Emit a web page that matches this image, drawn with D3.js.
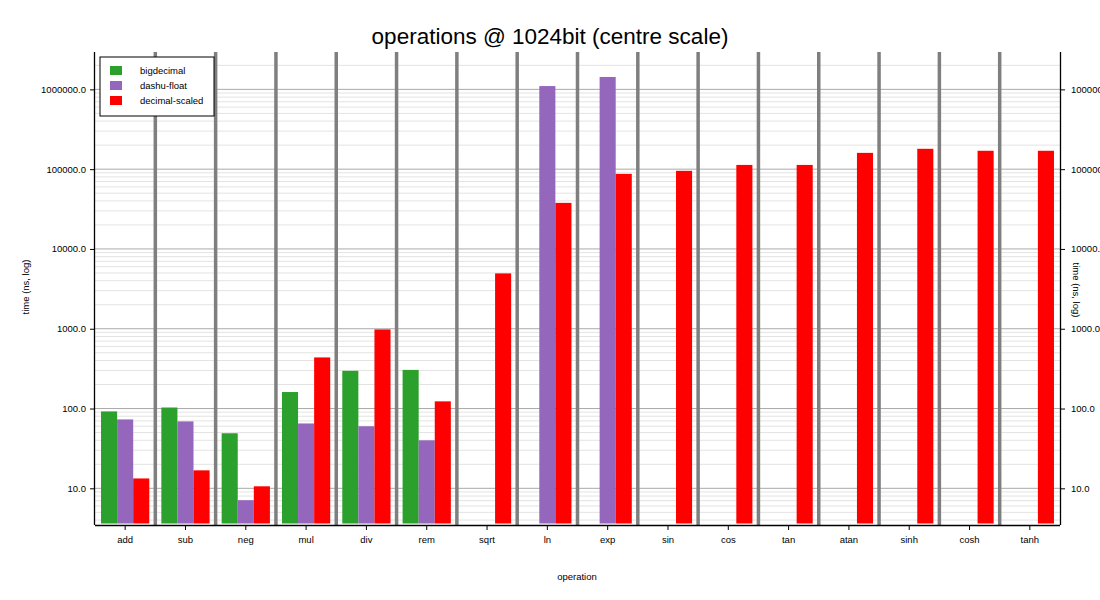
<!DOCTYPE html>
<html>
<head>
<meta charset="utf-8">
<script src="https://cdn.jsdelivr.net/npm/d3@7"></script>
<style>
  body { margin: 0; background: #fff; }
  svg text { font-family: "Liberation Sans", Arial, sans-serif; fill: #000; }
</style>
</head>
<body>
<svg id="chart" width="1100" height="600"></svg>
<script>
// operations on the x axis
var operations = ["add", "sub", "neg", "mul", "div", "rem", "sqrt", "ln", "exp",
    "sin", "cos", "tan", "atan", "sinh", "cosh", "tanh"];
var seriesNames = ["bigdecimal", "dashu-float", "decimal-scaled"];
// time in ns, null = not measured
var bigdecimal = [92, 103, 49, 161, 297, 305, null, null, null,
    null, null, null, null, null, null, null];
var dashuFloat = [73, 69, 7.1, 65, 60, 40, null, 1100000, 1430000,
    null, null, null, null, null, null, null];
var decimalScaled = [13.3, 16.8, 10.6, 437, 980, 123, 4940, 37800, 87300,
    95300, 113000, 113000, 160000, 180000, 170000, 170000];
var majorTicks = [10, 100, 1000, 10000, 100000, 1000000];

var colors = ["#2ca02c", "#9467bd", "#ff0000"];
var seriesValues = [bigdecimal, dashuFloat, decimalScaled];

var plotLeft = 95, plotRight = 1060, plotTop = 52, plotBottom = 525;
var svg = d3.select("#chart");

var x = d3.scaleBand().domain(operations).range([plotLeft, plotRight]).padding(0);
// group takes the middle 80% of each band
var inner = d3.scaleBand().domain(seriesNames)
    .range([x.bandwidth() * 0.1, x.bandwidth() * 0.9]).padding(0);

var y = d3.scaleLog().domain([3.47, 2.94e6]).range([plotBottom, plotTop]);

// grid
var grid = svg.append("g");
grid.selectAll("line.minor")
    .data(y.ticks().filter(t => majorTicks.indexOf(t) < 0))
    .enter().append("line")
    .attr("x1", plotLeft).attr("x2", plotRight)
    .attr("y1", d => y(d)).attr("y2", d => y(d))
    .attr("stroke", "#e3e3e3").attr("stroke-width", 1);
grid.selectAll("line.major")
    .data(majorTicks)
    .enter().append("line")
    .attr("x1", plotLeft).attr("x2", plotRight)
    .attr("y1", d => y(d)).attr("y2", d => y(d))
    .attr("stroke", "#aaaaaa").attr("stroke-width", 1);

// separators between operations
svg.append("g").selectAll("line")
    .data(operations.slice(1))
    .enter().append("line")
    .attr("x1", d => x(d)).attr("x2", d => x(d))
    .attr("y1", plotTop).attr("y2", plotBottom)
    .attr("stroke", "#7f7f7f").attr("stroke-width", 3.5);

// bars
seriesNames.forEach(function (name, si) {
    var vals = seriesValues[si];
    svg.append("g").selectAll("rect")
        .data(operations.map((op, i) => ({op: op, v: vals[i]})).filter(d => d.v != null))
        .enter().append("rect")
        .attr("x", d => x(d.op) + inner(name))
        .attr("width", inner.bandwidth())
        .attr("y", d => y(d.v))
        .attr("height", d => plotBottom - 1.5 - y(d.v))
        .attr("fill", colors[si]);
});

// axes
var fmt = d3.format(".1f");
var yLeft = d3.axisLeft(y).tickValues(majorTicks).tickFormat(fmt).tickSize(5).tickPadding(4);
var gl = svg.append("g").attr("transform", `translate(${plotLeft},0)`).call(yLeft);
var yRight = d3.axisRight(y).tickValues(majorTicks).tickFormat(fmt).tickSize(5).tickPadding(6);
var gr = svg.append("g").attr("transform", `translate(${plotRight},0)`).call(yRight);
var xAxis = d3.axisBottom(x).tickSize(5).tickPadding(6).tickSizeOuter(0);
var gx = svg.append("g").attr("transform", `translate(0,${plotBottom})`).call(xAxis);
[gl, gr, gx].forEach(function (g) {
    g.selectAll("text").style("font-size", "9.5px").style("font-family", "Liberation Sans, Arial, sans-serif");
    g.select(".domain").attr("stroke", "#000").attr("stroke-width", 1.3);
    g.selectAll(".tick line").attr("stroke", "#000");
});
gl.select(".domain").attr("d", `M-0.5,${plotTop}V${plotBottom}`);
gr.select(".domain").attr("d", `M0.5,${plotTop}V${plotBottom}`);
gx.select(".domain").attr("d", `M${plotLeft},0.5H${plotRight}`);

// labels
svg.append("text").attr("x", 550).attr("y", 44).attr("text-anchor", "middle")
    .style("font-size", "22.5px").text("operations @ 1024bit (centre scale)");
svg.append("text").attr("x", 577).attr("y", 580).attr("text-anchor", "middle")
    .style("font-size", "9.5px").text("operation");
svg.append("text").attr("transform", "translate(29,287) rotate(-90)").attr("text-anchor", "middle")
    .style("font-size", "9.5px").text("time (ns, log)");
svg.append("text").attr("transform", "translate(1073,290) rotate(90)").attr("text-anchor", "middle")
    .style("font-size", "9.5px").text("time (ns, log)");

// legend
var lg = svg.append("g").attr("transform", "translate(100,57)");
lg.append("rect").attr("width", 114).attr("height", 59)
    .attr("fill", "#fff").attr("stroke", "#000").attr("stroke-width", 1);
seriesNames.forEach(function (name, i) {
    lg.append("rect").attr("x", 10).attr("y", 9 + i * 15).attr("width", 12).attr("height", 9)
        .attr("fill", colors[i]);
    lg.append("text").attr("x", 40).attr("y", 17 + i * 15)
        .style("font-size", "9.5px").text(name);
});
</script>
</body>
</html>
